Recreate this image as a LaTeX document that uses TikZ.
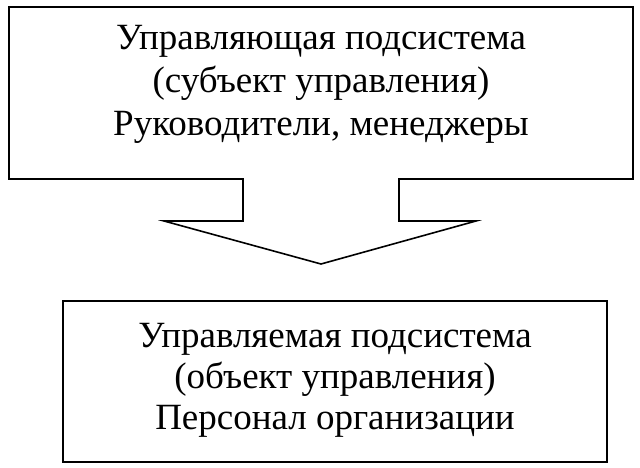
\documentclass[tikz,border=0pt]{standalone}
\usepackage{fontspec}
\setmainfont{Liberation Serif}

\begin{document}
\begin{tikzpicture}[x=1pt, y=-1pt,
	 frame/.style={draw, line width=1.6pt, line join=miter},
	 boxtext/.style={align=center, inner sep=0pt, font=\fontsize{37}{43}\selectfont}]
	 \useasboundingbox (0, 0) rectangle (640, 468);
	 
	 \draw[frame] (9, 7) -- (633, 7) -- (633, 179) -- (399, 179) -- (399, 221) -- (476, 221) -- (321, 264) -- (164, 221) -- (243, 221) -- (243, 179) -- (9, 179) -- cycle;
	 \node[boxtext] (subject) at (321, 84) {Управляющая подсистема\\(субъект управления)\\Руководители, менеджеры};
	 
	 \draw[frame] (63, 301) rectangle (607, 462);
	 \node[boxtext, font=\fontsize{37}{41}\selectfont] (object) at (335, 380) {Управляемая подсистема\\(объект управления)\\Персонал организации};
\end{tikzpicture}
\end{document}
